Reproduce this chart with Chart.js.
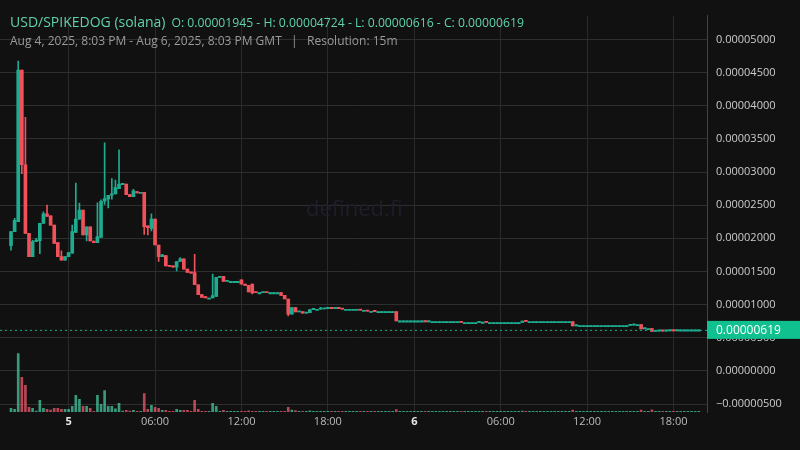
<!DOCTYPE html>
<html><head><meta charset="utf-8">
<script src="https://cdn.jsdelivr.net/npm/chart.js@4/dist/chart.umd.min.js"></script>
<style>
html,body{margin:0;padding:0;background:#111111;overflow:hidden}
#wrap{position:relative;width:800px;height:450px}
#t1{position:absolute;left:10px;top:10px;font-family:"Open Sans";color:#5fd3ad;white-space:nowrap}
#t1 .a{font-size:14px}
#t1 .b{font-size:12.2px;margin-left:6px}
#t2{position:absolute;left:10px;top:32px;font-family:"Open Sans";font-size:12px;color:#9a9a9a;white-space:nowrap}
#wm{position:absolute;left:306px;top:192px;font-family:"Open Sans";font-size:22px;color:#1e1e2c}
</style></head>
<body><div id="wrap"><canvas id="c" width="800" height="450"></canvas>
<div id="wm">defined.fi</div>
<div id="t1"><span class="a">USD/SPIKEDOG (solana)</span><span class="b">O: 0.00001945 - H: 0.00004724 - L: 0.00000616 - C: 0.00000619</span></div>
<div id="t2">Aug 4, 2025, 8:03 PM - Aug 6, 2025, 8:03 PM GMT &nbsp; | &nbsp; Resolution: 15m</div>
</div>
<script>
// prices in units of 1e-6 USD, 15-minute candles from Aug 4 20:00
const opens = [18.9,21.0,22.5,45.4,31.1,20.75,17.25,19.5,19.65,22.25,23.7,23.4,22.0,19.35,17.25,16.7,17.25,17.75,20.9,22.9,24.25,20.5,21.75,19.6,19.35,20.15,25.6,25.9,26.5,26.7,27.5,28.1,28.2,26.6,26.3,27.05,26.95,26.95,21.9,21.5,22.9,19.0,17.25,17.4,15.85,15.85,15.65,16.5,16.9,15.35,14.85,14.85,13.0,11.5,11.2,11.0,11.0,11.25,14.1,14.25,13.5,13.5,13.5,13.5,13.75,13.1,12.9,13.1,
11.85,11.8,11.8,11.85,11.8,11.8,11.8,
11.8,11.4,10.85,8.55,9.55,8.9,8.95,8.7,8.8,9.25,9.3,9.3,9.35,9.4,9.45,9.4,9.45,9.4,
9.3,9.3,9.3,9.3,9.3,9.15,9.15,9.0,9.0,8.95,8.95,8.95,8.95,8.95,
8.95,7.55,7.55,7.55,7.55,7.55,7.55,7.55,7.55,7.4,7.45,7.45,7.45,7.45,7.45,7.45,7.45,7.45,7.45,
7.3,7.3,7.3,7.3,7.3,7.35,7.35,7.3,7.3,7.3,7.3,7.3,7.3,7.3,7.3,7.3,
7.3,7.5,7.45,7.45,7.45,7.45,7.45,7.45,7.45,7.45,7.45,7.45,7.45,7.45,7.45,
6.8,6.85,6.85,6.85,6.85,6.85,6.85,6.85,6.85,6.85,6.85,6.85,6.85,6.85,6.85,
6.85,6.9,7.0,7.0,6.35,6.4,6.4,5.95,6.0,6.05,6.0,6.05,6.1,6.05,6.19,6.19,6.19,6.19,6.19,6.19];
const closes = [21.0,22.7,45.4,31.1,20.75,17.25,19.5,19.75,22.25,23.7,23.3,22.0,19.25,17.25,16.7,17.25,17.85,21.0,22.9,24.25,20.5,21.75,19.6,19.35,20.25,25.6,26.0,26.5,26.7,27.65,28.2,28.2,26.6,26.3,27.15,26.85,26.95,21.75,21.6,22.9,19.0,17.25,17.5,15.85,15.75,15.65,16.5,16.9,15.35,14.85,14.75,13.0,11.5,11.1,11.0,11.0,11.35,14.1,14.25,13.5,13.65,13.5,13.5,13.5,13.1,12.9,11.9,11.75,
11.8,11.8,11.85,11.8,11.8,11.8,11.8,
11.4,10.85,8.55,9.55,8.9,8.95,8.7,8.8,9.25,9.3,9.3,9.35,9.4,9.45,9.4,9.45,9.4,9.3,
9.3,9.3,9.3,9.3,9.15,9.15,9.0,9.0,8.95,8.95,8.95,8.95,8.95,8.95,
7.55,7.55,7.55,7.55,7.55,7.55,7.55,7.55,7.4,7.45,7.45,7.45,7.45,7.45,7.45,7.45,7.45,7.45,7.3,
7.3,7.3,7.3,7.3,7.35,7.35,7.3,7.3,7.3,7.3,7.3,7.3,7.3,7.3,7.3,7.3,
7.5,7.45,7.45,7.45,7.45,7.45,7.45,7.45,7.45,7.45,7.45,7.45,7.45,7.45,6.8,
6.85,6.85,6.85,6.85,6.85,6.85,6.85,6.85,6.85,6.85,6.85,6.85,6.85,6.85,6.85,
6.9,7.0,7.0,6.35,6.4,6.4,5.95,6.0,6.05,6.0,6.05,6.1,6.05,6.19,6.19,6.19,6.19,6.19,6.19,6.19];
const highs = [21.0,23.0,46.75,45.4,38.25,20.75,19.7,20.0,22.25,24.0,25.0,23.4,22.0,19.35,18.1,17.25,17.85,22.0,28.35,25.3,24.25,21.75,21.75,19.6,25.35,25.8,34.4,26.5,29.0,28.8,33.35,28.3,28.2,26.6,27.4,27.05,26.95,26.95,21.9,23.7,22.9,19.0,17.6,17.4,15.85,15.85,16.5,17.1,16.9,15.35,14.85,17.6,13.0,11.5,11.2,11.0,14.6,14.1,14.25,14.25,13.65,13.5,13.5,13.5,13.75,13.1,12.9,13.1,
11.85,11.8,11.85,11.85,11.8,11.8,11.8,
11.8,11.4,10.85,9.55,9.55,8.95,8.95,8.8,9.25,9.3,9.3,9.6,9.4,9.45,9.45,9.45,9.45,9.4,
9.3,9.3,9.3,9.3,9.3,9.15,9.15,9.0,9.0,8.95,8.95,8.95,8.95,8.95,
8.95,7.55,7.55,7.55,7.55,7.55,7.55,7.55,7.55,7.45,7.45,7.45,7.45,7.45,7.45,7.45,7.45,7.45,7.45,
7.3,7.3,7.3,7.3,7.35,7.35,7.35,7.3,7.3,7.3,7.3,7.3,7.3,7.3,7.3,7.3,
7.5,7.5,7.45,7.45,7.45,7.45,7.45,7.45,7.45,7.45,7.45,7.45,7.45,7.45,7.45,
6.85,6.85,6.85,6.85,6.85,6.85,6.85,6.85,6.85,6.85,6.85,6.85,6.85,6.85,6.85,
6.9,7.1,7.0,7.0,6.4,6.4,6.4,6.0,6.05,6.05,6.05,6.1,6.1,6.19,6.19,6.19,6.19,6.19,6.19,6.19];
const lows = [18.2,21.0,22.5,29.75,20.75,17.25,17.25,19.5,17.7,22.25,23.3,22.0,19.25,17.25,16.7,16.7,17.25,17.75,20.9,22.9,20.5,19.6,19.6,19.35,19.35,20.15,25.1,24.6,25.9,26.7,27.5,28.1,26.6,26.3,26.3,26.85,26.95,20.6,20.5,21.1,19.0,16.5,17.25,15.85,15.75,15.65,15.1,16.5,15.35,14.85,14.75,13.0,11.5,11.1,11.0,11.0,11.0,11.25,14.1,13.5,13.5,13.5,13.5,13.5,13.1,12.9,11.9,11.6,
11.8,11.8,11.8,11.8,11.8,11.8,11.8,
11.4,10.85,8.3,8.55,8.9,8.9,8.7,8.7,8.8,9.25,9.3,9.3,9.35,9.4,9.4,9.4,9.4,9.3,
9.3,9.3,9.3,9.3,9.15,9.15,9.0,9.0,8.95,8.95,8.95,8.95,8.95,8.95,
7.55,7.55,7.55,7.55,7.55,7.55,7.55,7.55,7.4,7.4,7.45,7.45,7.45,7.45,7.45,7.45,7.45,7.45,7.3,
7.3,7.3,7.3,7.3,7.3,7.35,7.3,7.3,7.3,7.3,7.3,7.3,7.3,7.3,7.3,7.3,
7.3,7.45,7.45,7.45,7.45,7.45,7.45,7.45,7.45,7.45,7.45,7.45,7.45,7.45,6.8,
6.8,6.85,6.85,6.85,6.85,6.85,6.85,6.85,6.85,6.85,6.85,6.85,6.85,6.85,6.85,
6.85,6.9,7.0,6.35,6.35,6.4,5.95,5.95,6.0,6.0,6.0,6.05,6.05,6.05,6.19,6.19,6.19,6.19,6.19,6.16];
const volumes = [3.7,2.7,59,35,27,4.7,3.7,1,11.7,3.7,2.7,2,3.7,3.7,2.7,2.7,2.7,5.7,16.7,12.7,5.7,5.7,3.7,0.7,16.7,7.7,21.7,5.7,5.7,3.3,8.7,1,1.7,1,1.7,0.7,0.7,18.7,2.7,6.7,4.7,3.7,1.7,1.7,0.7,0.7,2.7,1.7,1.7,1.7,0.7,11.7,2.7,0.7,0.7,0.7,8.7,5.7,0.7,1.7,0.7,0.7,0.7,0.7,0.7,0.7,1.2,0.7,
0.7,0.7,0.7,0.7,0.7,0.7,0.7,
0.7,0.7,4.7,2,1.5,0.7,0.7,0.7,1.2,0.7,0.7,0.7,0.7,0.7,0.7,0.7,0.7,0.7,
0.7,0.7,0.7,0.7,0.7,0.7,0.7,0.7,0.7,0.7,0.7,0.7,0.7,0.7,
2.5,0.7,0.7,0.7,0.7,0.7,0.7,0.7,0.7,0.7,0.7,0.7,0.7,0.7,0.7,0.7,0.7,0.7,0.7,
0.7,0.7,0.7,0.7,0.7,0.7,0.7,0.7,0.7,0.7,0.7,0.7,0.7,0.7,0.7,0.7,
1,0.7,0.7,0.7,0.7,0.7,0.7,0.7,0.7,0.7,0.7,0.7,0.7,0.7,2,
0.7,0.7,0.7,0.7,0.7,0.7,0.7,0.7,0.7,0.7,0.7,0.7,0.7,0.7,0.7,
0.7,0.7,0.7,2,0.7,0.7,2.2,0.7,0.7,0.7,0.7,0.7,0.7,0.7,0.7,0.7,0.7,0.7,0.7,0.7];
const tickIndex = [16,40,64,88,112,136,160,184];
const tickLabels = ['5','06:00','12:00','18:00','6','06:00','12:00','18:00'];
const lastPrice = 6.19;

const UP='#1fab8f', DN='#f0525c', UPV='rgba(70,200,160,0.75)', DNV='rgba(240,90,110,0.75)';
const idx = opens.map((_,i)=>i);
const isUp = i => closes[i] >= opens[i];
const plugin = {
  id:'extras',
  afterDatasetsDraw(ch){
    const {ctx, chartArea:a, scales:{y}} = ch;
    const py = y.getPixelForValue(lastPrice);
    ctx.save();
    ctx.strokeStyle=UP; ctx.lineWidth=1; ctx.setLineDash([2,3]);
    ctx.beginPath(); ctx.moveTo(a.left,py+0.5); ctx.lineTo(a.right,py+0.5); ctx.stroke();
    ctx.setLineDash([]);
    ctx.fillStyle='#10c08e'; ctx.fillRect(a.right,py-9,800-a.right,18);
    ctx.fillStyle='#ffffff'; ctx.font='12px "Open Sans"'; ctx.textBaseline='middle';
    ctx.fillText('0.00000619', a.right+9, py+1);
    ctx.restore();
  }
};
new Chart(document.getElementById('c'),{
  type:'bar',
  data:{datasets:[
    {data:idx.map(i=>({x:i,y:[lows[i],highs[i]]})), backgroundColor:idx.map(i=>isUp(i)?UP:DN), barThickness:1, grouped:false, yAxisID:'y', order:2},
    {data:idx.map(i=>({x:i,y:[opens[i],closes[i]]})), backgroundColor:idx.map(i=>isUp(i)?UP:DN), barThickness:3, minBarLength:1.2, grouped:false, yAxisID:'y', order:1},
    {data:idx.map(i=>({x:i,y:volumes[i]})), backgroundColor:idx.map(i=>isUp(i)?UPV:DNV), barThickness:2, grouped:false, yAxisID:'v', order:3}
  ]},
  options:{
    responsive:false, animation:false, events:[],
    layout:{padding:{top:0,left:0,right:0,bottom:0}},
    plugins:{legend:{display:false},tooltip:{enabled:false}},
    scales:{
      x:{type:'linear',offset:false,min:-3.06,max:193.3,
        afterBuildTicks(s){s.ticks=tickIndex.map(v=>({value:v}));},
        afterFit(s){s.height=38;},
        ticks:{autoSkip:false,maxRotation:0,
          color:c=>(c.index%4===0?'#e6e6e6':'#bbbbbb'),
          font:c=>({family:'Open Sans',size:11,weight:(c.index%4===0?'bold':'normal')}),
          callback:(v,i)=>tickLabels[i]},
        grid:{color:'#2a2a2a',drawTicks:false,offset:false},border:{display:false}},
      y:{position:'right',min:-6.2,max:53.6,
        afterBuildTicks(s){const t=[];for(const v of [-5,0,5,10,15,20,25,30,35,40,45,50])t.push({value:v});s.ticks=t;},
        afterFit(s){s.width=93;},
        ticks:{color:'#cccccc',padding:9,font:{family:'Open Sans',size:11},
          callback:v=>(v/1e6).toFixed(8).replace(/^-/,'\u2212')},
        grid:{color:'#2e2e2e',drawTicks:false},border:{display:true,color:'#444444'}},
      v:{display:false,min:0,max:400}
    }
  },
  plugins:[plugin]
});
</script></body></html>
